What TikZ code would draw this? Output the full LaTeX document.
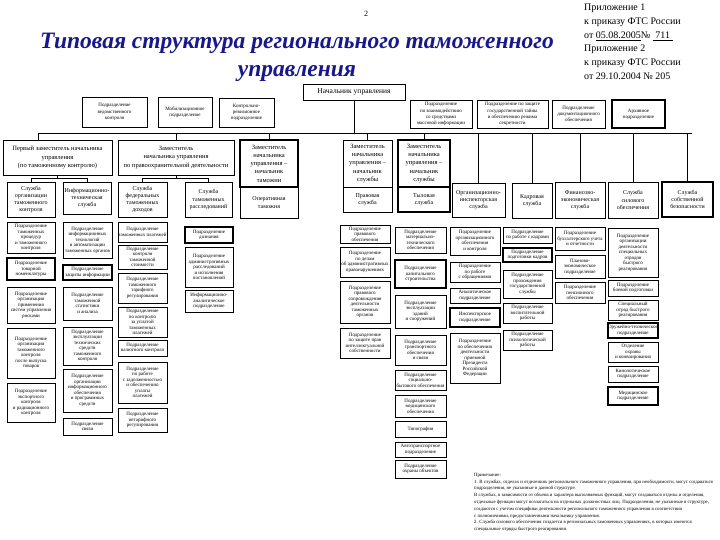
\documentclass[tikz,border=0pt]{standalone}
\usepackage{fontspec}
\setmainfont{Liberation Serif}
\definecolor{titleblue}{RGB}{24,24,140}
\def\bxparse#1#2#3,#4;#5,#6;#7{%
  \pgfmathsetmacro\bxw{#5-#3}\pgfmathsetmacro\bxh{#6-#4}%
  \pgfmathsetmacro\bxx{(#3+#5)/2}\pgfmathsetmacro\bxy{(#4+#6)/2}%
  \node[bx,minimum width=\bxw pt,minimum height=\bxh pt,#1] (#2) at (\bxx,\bxy) {#7};}
\newcommand{\bx}[5][]{\bxparse{#1}{#2}#3;#4;{#5}}
\begin{document}
\begin{tikzpicture}[x=1pt,y=-1pt,
  bx/.style={draw, line width=0.6pt, inner sep=0pt, align=center, font=\fontsize{5}{5.5}\selectfont},
  svc/.style={font=\fontsize{6}{7.2}\selectfont},
  dep/.style={font=\fontsize{6.5}{8.3}\selectfont},
  stf/.style={font=\fontsize{5}{6.2}\selectfont},
  bold/.style={line width=1.1pt},
  ln/.style={line width=0.6pt}]
\useasboundingbox (0,0) rectangle (720,540);
\fill[white] (0,0) rectangle (720,540);

% title and header texts
\node[font=\fontsize{23.5}{28}\selectfont\bfseries\itshape, text=titleblue, align=center] (title) at (297,57) {Типовая структура регионального таможенного\\управления};
\node[font=\fontsize{8}{9}\selectfont] (pnum) at (366,14) {2};
\node[anchor=north west, align=left, font=\fontsize{10}{13.8}\selectfont, inner sep=0pt] (app1) at (584,4) {Приложение 1\\к приказу ФТС России\\от \underline{05.08.2005}№ \underline{\ 711\ }};
\node[anchor=north west, align=left, font=\fontsize{10}{13.8}\selectfont, inner sep=0pt] (app2) at (584,45) {Приложение 2\\к приказу ФТС России\\от 29.10.2004 № 205};

% head and staff units
\bx[font=\fontsize{7.5}{9}\selectfont]{head}{303,84}{405,100}{Начальник управления}
\bx[stf]{st1}{82,97}{147,127}{Подразделение\\ведомственного\\контроля}
\bx[stf]{st2}{158,97}{212,127}{Мобилизационное\\подразделение}
\bx[stf]{st3}{219,98}{274,127}{Контрольно-\\ревизионное\\подразделение}
\bx[stf]{st4}{410,100}{472,128}{Подразделение\\по взаимодействию\\со средствами\\массовой информации}
\bx[stf]{st5}{477,100}{548,128}{Подразделение по защите\\государственной тайны\\и обеспечению режима\\секретности}
\bx[stf]{st6}{552,100}{605,128}{Подразделение\\документационного\\обеспечения}
\bx[stf,bold]{st7}{612,100}{665,128}{Архивное\\подразделение}

% deputies
\bx[dep]{d1}{3,140}{112,175}{Первый заместитель начальника\\управления\\(по таможенному контролю)}
\bx[dep]{d2}{118,140}{234,175}{Заместитель\\начальника управления\\по правоохранительной деятельности}
\bx[dep,bold]{d3}{240,140}{298,187}{Заместитель\\начальника\\управления –\\начальник\\таможни}
\bx[dep]{d4}{343,140}{392,187}{Заместитель\\начальника\\управления –\\начальник\\службы}
\bx[dep,bold]{d5}{398,140}{450,187}{Заместитель\\начальника\\управления –\\начальник\\службы}

% services
\bx[svc]{s1}{7,182}{55,217}{Служба\\организации\\таможенного\\контроля}
\bx[svc]{s2}{63,182}{111,214}{Информационно-\\техническая\\служба}
\bx[svc]{s3}{118,182}{167,217}{Служба\\федеральных\\таможенных\\доходов}
\bx[svc]{s4}{185,182}{232,217}{Служба\\таможенных\\расследований}
\bx[svc]{s5}{240,187}{298,218}{Оперативная\\таможня}
\bx[svc]{s6}{343,187}{392,212}{Правовая\\служба}
\bx[svc,bold]{s7}{398,187}{450,212}{Тыловая\\служба}
\bx[svc]{s8}{452,183}{505,217}{Организационно-\\инспекторская\\служба}
\bx[svc]{s9}{512,183}{552,218}{Кадровая\\служба}
\bx[svc]{s10}{555,182}{605,218}{Финансово-\\экономическая\\служба}
\bx[svc]{s11}{608,182}{658,218}{Служба\\силового\\обеспечения}
\bx[svc,bold]{s12}{662,182}{713,217}{Служба\\собственной\\безопасности}

% column A
\bx{a1}{7,222}{55,253}{Подразделение\\таможенных\\процедур\\и таможенного\\контроля}
\bx[bold]{a2}{7,258}{55,280}{Подразделение\\товарной\\номенклатуры}
\bx{a3}{7,287}{55,323}{Подразделение\\организации\\применения\\систем управления\\рисками}
\bx{a4}{7,328}{55,378}{Подразделение\\организации\\таможенного\\контроля\\после выпуска\\товаров}
\bx{a5}{7,383}{55,422}{Подразделение\\экспортного\\контроля\\и радиационного\\контроля}
% column B
\bx{b1}{63,222}{112,258}{Подразделение\\информационных\\технологий\\и автоматизации\\таможенных органов}
\bx[bold]{b2}{63,265}{112,280}{Подразделение\\защиты информации}
\bx{b3}{63,287}{112,320}{Подразделение\\таможенной\\статистики\\и анализа}
\bx{b4}{63,327}{112,365}{Подразделение\\эксплуатации\\технических\\средств\\таможенного\\контроля}
\bx{b5}{63,369}{112,412}{Подразделение\\организации\\информационного\\обеспечения\\и программных\\средств}
\bx{b6}{63,418}{112,435}{Подразделение\\связи}
% column C
\bx{c1}{118,222}{167,242}{Подразделение\\таможенных платежей}
\bx{c2}{118,245}{167,269}{Подразделение\\контроля\\таможенной\\стоимости}
\bx{c3}{118,273}{167,303}{Подразделение\\таможенного\\тарифного\\регулирования}
\bx{c4}{118,307}{167,337}{Подразделение\\по контролю\\за уплатой\\таможенных\\платежей}
\bx{c5}{118,340}{167,356}{Подразделение\\валютного контроля}
\bx{c6}{118,362}{167,403}{Подразделение\\по работе\\с задолженностью\\и обеспечению\\уплаты\\платежей}
\bx{c7}{118,408}{167,432}{Подразделение\\нетарифного\\регулирования}
% column D
\bx[bold]{dd1}{185,227}{233,243}{Подразделение\\дознания}
\bx{dd2}{185,247}{233,287}{Подразделение\\административных\\расследований\\и исполнения\\постановлений}
\bx{dd3}{185,290}{233,312}{Информационно-\\аналитическое\\подразделение}
% column E
\bx{e1}{340,225}{390,243}{Подразделение\\правового\\обеспечения}
\bx{e2}{340,247}{390,277}{Подразделение\\по делам\\об административных\\правонарушениях}
\bx{e3}{340,281}{390,323}{Подразделение\\правового\\сопровождения\\деятельности\\таможенных\\органов}
\bx{e4}{340,328}{390,358}{Подразделение\\по защите прав\\интеллектуальной\\собственности}
% column F
\bx{f1}{395,227}{446,253}{Подразделение\\материально-\\технического\\обеспечения}
\bx[bold]{f2}{395,260}{446,288}{Подразделение\\капитального\\строительства}
\bx{f3}{395,295}{446,328}{Подразделение\\эксплуатации\\зданий\\и сооружений}
\bx{f4}{395,335}{446,365}{Подразделение\\транспортного\\обеспечения\\и связи}
\bx{f5}{395,370}{446,390}{Подразделение\\социально-\\бытового обеспечения}
\bx{f6}{395,395}{446,417}{Подразделение\\медицинского\\обеспечения}
\bx{f7}{395,421}{446,437}{Типография}
\bx{f8}{395,442}{446,457}{Автотранспортное\\подразделение}
\bx{f9}{395,460}{446,478}{Подразделение\\охраны объектов}
% column G
\bx{g1}{450,227}{500,255}{Подразделение\\организационного\\обеспечения\\и контроля}
\bx{g2}{450,262}{500,282}{Подразделение\\по работе\\с обращениями}
\bx{g3}{450,288}{500,303}{Аналитическое\\подразделение}
\bx[bold]{g4}{450,308}{500,327}{Инспекторское\\подразделение}
\bx{g5}{450,333}{500,383}{Подразделение\\по обеспечению\\деятельности\\приемной\\Президента\\Российской\\Федерации}
% column H
\bx{h1}{503,227}{552,243}{Подразделение\\по работе с кадрами}
\bx[bold]{h2}{503,248}{552,262}{Подразделение\\подготовки кадров}
\bx{h3}{503,270}{552,298}{Подразделение\\прохождения\\государственной\\службы}
\bx{h4}{503,303}{552,323}{Подразделение\\воспитательной\\работы}
\bx{h5}{503,330}{552,350}{Подразделение\\психологической\\работы}
% column I
\bx{i1}{555,227}{605,250}{Подразделение\\бухгалтерского учета\\и отчетности}
\bx{i2}{555,255}{605,278}{Планово-\\экономическое\\подразделение}
\bx{i3}{555,282}{605,303}{Подразделение\\пенсионного\\обеспечения}
% column J
\bx{j1}{608,228}{658,277}{Подразделение\\организации\\деятельности\\специальных\\отрядов\\быстрого\\реагирования}
\bx{j2}{608,280}{658,296}{Подразделение\\боевой подготовки}
\bx{j3}{608,300}{658,320}{Специальный\\отряд быстрого\\реагирования}
\bx[bold]{j4}{608,323}{658,338}{Оружейно-техническое\\подразделение}
\bx{j5}{608,342}{658,362}{Отделение\\охраны\\и конвоирования}
\bx{j6}{608,366}{658,382}{Кинологическое\\подразделение}
\bx[bold]{j7}{608,387}{658,405}{Медицинское\\подразделение}

% connectors
\coordinate (bl) at (38,133);
\coordinate (br) at (692,133);
\draw[ln] (bl) -- (br);
\draw[ln] (head.south) -- (head.south |- bl);
\draw[ln] (bl) -- (d1.north -| bl);
\foreach \n in {d2,d3,d4,d5,s8,s9,s10,s11,s12} \draw[ln] (\n.north) -- (\n.north |- bl);
\draw[ln] (d1.south) -- ++(0,3.5) -| (s1.north);
\draw[ln] (d1.south) -- ++(0,3.5) -| (s2.north);
\draw[ln] (d2.south) -- ++(0,3.5) -| (s3.north);
\draw[ln] (d2.south) -- ++(0,3.5) -| (s4.north);

% note
\node[anchor=north west, align=left, inner sep=0pt, font=\fontsize{4.8}{6.8}\selectfont] (note) at (474,473) {Примечание:\\
1. В службах, отделах и отделениях регионального таможенного управления, при необходимости, могут создаваться\\
подразделения, не указанные в данной структуре.\\
В службах, в зависимости от объема и характера выполняемых функций, могут создаваться отделы и отделения,\\
отдельные функции могут возлагаться на отдельных должностных лиц. Подразделения, не указанные в структуре,\\
создаются с учетом специфики деятельности регионального таможенного управления в соответствии\\
с полномочиями, предоставленными начальнику управления.\\
2. Служба силового обеспечения создается в региональных таможенных управлениях, в которых имеются\\
специальные отряды быстрого реагирования.};
\end{tikzpicture}
\end{document}
